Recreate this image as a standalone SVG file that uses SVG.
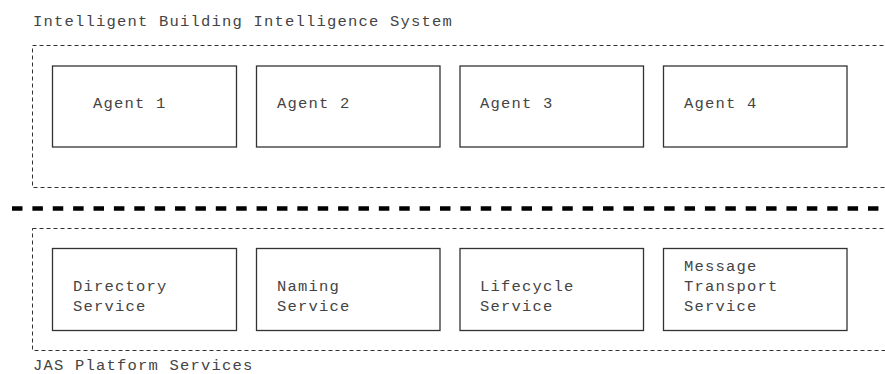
<svg xmlns="http://www.w3.org/2000/svg" width="885" height="374" viewBox="0 0 885 374">
<style>
text{font-family:"Liberation Mono","Courier New",monospace;font-size:15.5px;letter-spacing:1.2px;fill:#444}
.box{fill:#fff;stroke:#333;stroke-width:1.3}
.grp{fill:none;stroke:#333;stroke-width:1;stroke-dasharray:4 3}
.sep{fill:none;stroke:#000;stroke-width:4.5;stroke-dasharray:10.5 9.88}
</style>
<rect width="885" height="374" fill="#fff"/>
<g id="system">
<rect class="grp" x="32.5" y="45.5" width="880" height="142"/>
<text x="33" y="26">Intelligent Building Intelligence System</text>
</g>
<g id="agent1"><rect class="box" x="52.5" y="66" width="184" height="81"/><text x="93" y="108">Agent 1</text></g>
<g id="agent2"><rect class="box" x="256.5" y="66" width="183.5" height="81"/><text x="277" y="108">Agent 2</text></g>
<g id="agent3"><rect class="box" x="460" y="66" width="183.5" height="81"/><text x="480" y="108">Agent 3</text></g>
<g id="agent4"><rect class="box" x="663.5" y="66" width="183.5" height="81"/><text x="684" y="108">Agent 4</text></g>
<g id="separator"><line class="sep" x1="12" y1="208.5" x2="885" y2="208.5"/></g>
<g id="platform">
<rect class="grp" x="32.5" y="228.5" width="880" height="122"/>
<text x="33" y="370">JAS Platform Services</text>
</g>
<g id="directory"><rect class="box" x="52.5" y="248.5" width="184" height="82"/><text x="73" y="291">Directory</text><text x="73" y="311">Service</text></g>
<g id="naming"><rect class="box" x="256.5" y="248.5" width="183.5" height="82"/><text x="277" y="291">Naming</text><text x="277" y="311">Service</text></g>
<g id="lifecycle"><rect class="box" x="460" y="248.5" width="183.5" height="82"/><text x="480" y="291">Lifecycle</text><text x="480" y="311">Service</text></g>
<g id="transport"><rect class="box" x="663.5" y="248.5" width="183.5" height="82"/><text x="684" y="271">Message</text><text x="684" y="291">Transport</text><text x="684" y="311">Service</text></g>
<g id="connectors"/>
</svg>
